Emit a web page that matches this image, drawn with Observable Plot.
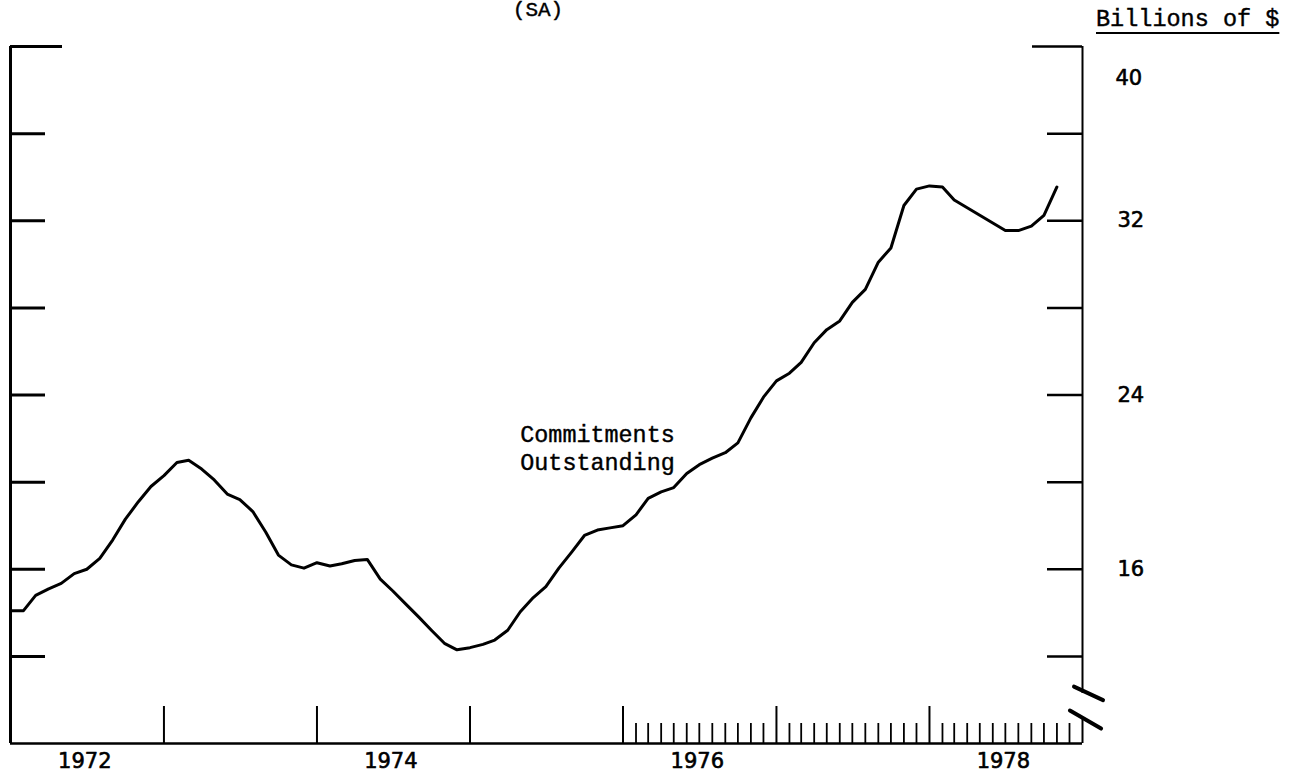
<!DOCTYPE html>
<html>
<head>
<meta charset="utf-8">
<script src="https://cdn.jsdelivr.net/npm/d3@7"></script>
<script src="https://cdn.jsdelivr.net/npm/@observablehq/plot@0.6"></script>
<style>
  html, body { margin: 0; padding: 0; background: #fff; color: #000; overflow: hidden; }
  #hdr { position: relative; width: 1293px; height: 40px; overflow: hidden; }
  #sa { position: absolute; left: 538px; top: 0px; transform: translateX(-50%);
        font-family: "Liberation Mono", monospace; font-size: 21px; line-height: 1; white-space: nowrap;
        -webkit-text-stroke: 0.4px #000; }
  #units { position: absolute; left: 1096px; top: 8px; font-family: "Liberation Mono", monospace;
           font-size: 23.5px; line-height: 1; white-space: nowrap; text-decoration: underline;
           text-underline-offset: 6px; text-decoration-thickness: 2px; -webkit-text-stroke: 0.4px #000; }
  #chart svg { display: block; }
</style>
</head>
<body>
<div id="hdr"><span id="sa">(SA)</span><span id="units">Billions of $</span></div>
<div id="chart"></div>
<script>
// ---- Data (monthly, seasonally adjusted, billions of $), Jan 1972 .. Nov 1978
const startYear = 1972;
const commitments = [
  14.1, 14.1, 14.8, 15.1, 15.35, 15.8, 16.0, 16.5, 17.35, 18.3, 19.1, 19.8,   // 1972
  20.3, 20.9, 21.0, 20.6, 20.1, 19.45, 19.2, 18.65, 17.7, 16.65, 16.2, 16.05, // 1973
  16.3, 16.15, 16.25, 16.4, 16.45, 15.55, 15.0, 14.4, 13.8, 13.2, 12.6, 12.3, // 1974
  12.4, 12.55, 12.75, 13.2, 14.05, 14.7, 15.2, 16.05, 16.8, 17.55, 17.8, 17.9, // 1975
  18.0, 18.5, 19.25, 19.55, 19.75, 20.4, 20.8, 21.1, 21.35, 21.8, 22.95, 23.9, // 1976
  24.65, 25.0, 25.5, 26.4, 27.0, 27.4, 28.25, 28.85, 30.1, 30.75, 32.7, 33.45, // 1977
  33.6, 33.55, 32.95, 32.6, 32.25, 31.9, 31.55, 31.55, 31.75, 32.25, 33.55     // 1978
];

// ---- Axes definitions
const yDomain = [8, 40];
const yTicks = [12, 16, 20, 24, 28, 32, 36];
const yTopTick = [40];
const yLabels = [32, 24, 16];
const yTopLabel = [40];
const xDomainYears = [1972, 1979];
const majorTickYears = [1973, 1974, 1975, 1976, 1977, 1978];
const minorTickFromYear = 1976;
const yearLabels = [1972, 1974, 1976, 1978];
const axisBreaks = [10.3, 9.1];
const seriesLabel = ["Commitments\nOutstanding"];
const seriesLabelAt = { year: 1975, month: 4, value: 22.77 };

// ---- Build tables
const ym = (y, m = 0) => new Date(Date.UTC(y, m, 1));
const data = commitments.map((v, i) => ({ date: ym(startYear, i), value: v }));
const xStart = ym(xDomainYears[0]);
const xEnd = ym(xDomainYears[1]);
const majorTicks = majorTickYears.map(y => ym(y));
const minorTicks = d3.utcMonth.range(ym(minorTickFromYear), xEnd).filter(d => d.getUTCMonth() !== 0);

const W = 1293, H = 735, mT = 6, mB = 32, mL = 10, mR = 211;
const frameW = W - mL - mR, frameH = H - mT - mB;

const slash = { draw(context, l) { context.moveTo(0, 0); context.lineTo(0, -l); } };
const numFont = "DejaVu Sans, sans-serif";
const monoFont = "Liberation Mono, monospace";
const numStyle = { fontSize: 21, fontFamily: numFont, fill: "#000", stroke: "#000", strokeWidth: 0.6 };

const chart = Plot.plot({
  width: W, height: H,
  marginTop: mT, marginBottom: mB, marginLeft: mL, marginRight: mR,
  style: { background: "#fff", color: "#000" },
  x: { type: "utc", domain: [xStart, xEnd], axis: null },
  y: { domain: yDomain, axis: null },
  marks: [
    // left axis line and inward ticks
    Plot.ruleX([xStart], { strokeWidth: 3 }),
    Plot.tickY(yTicks, { y: d => d, insetRight: frameW - 35, strokeWidth: 3 }),
    Plot.tickY(yTopTick, { y: d => d, insetRight: frameW - 52, strokeWidth: 3 }),
    // right axis line (with break) and inward ticks
    Plot.ruleX([xEnd], { y1: yDomain[1], y2: axisBreaks[0], strokeWidth: 2 }),
    Plot.ruleX([xEnd], { y1: axisBreaks[1], y2: yDomain[0], strokeWidth: 2 }),
    Plot.tickY(yTicks, { y: d => d, insetLeft: frameW - 35, strokeWidth: 2.5 }),
    Plot.tickY(yTopTick, { y: d => d, insetLeft: frameW - 50, strokeWidth: 2.5 }),
    Plot.vector([axisBreaks[0]], { x: () => xEnd, y: d => d, length: 32, rotate: 115, anchor: "middle", dx: 6, strokeWidth: 4, shape: slash }),
    Plot.vector([axisBreaks[1]], { x: () => xEnd, y: d => d, length: 36, rotate: 120, anchor: "middle", dx: 3, strokeWidth: 4, shape: slash }),
    // bottom axis
    Plot.ruleY([yDomain[0]], { strokeWidth: 2.5 }),
    Plot.tickX(majorTicks, { x: d => d, insetTop: frameH - 37, strokeWidth: 2 }),
    Plot.tickX(minorTicks, { x: d => d, insetTop: frameH - 20, strokeWidth: 1.8 }),
    // labels
    Plot.text(yLabels, { x: () => xEnd, y: d => d, text: d => String(d), dx: 35, textAnchor: "start", lineAnchor: "middle", ...numStyle }),
    Plot.text(yTopLabel, { x: () => xEnd, y: d => d, text: d => String(d), dx: 33, dy: 32, textAnchor: "start", lineAnchor: "middle", ...numStyle }),
    Plot.text(yearLabels, { x: d => ym(d, 6), frameAnchor: "bottom", text: d => String(d), lineAnchor: "top", dy: 10, dx: -2, ...numStyle }),
    // series
    Plot.line(data, { x: "date", y: "value", stroke: "#000", strokeWidth: 3, strokeLinejoin: "round" }),
    Plot.text(seriesLabel, { x: () => ym(seriesLabelAt.year, seriesLabelAt.month), y: () => seriesLabelAt.value, text: d => d, textAnchor: "start", lineAnchor: "top", lineHeight: 1.2, fontSize: 23.4, fontFamily: monoFont, fill: "#000", stroke: "#000", strokeWidth: 0.4 })
  ]
});
document.getElementById("chart").appendChild(chart);
</script>
</body>
</html>
